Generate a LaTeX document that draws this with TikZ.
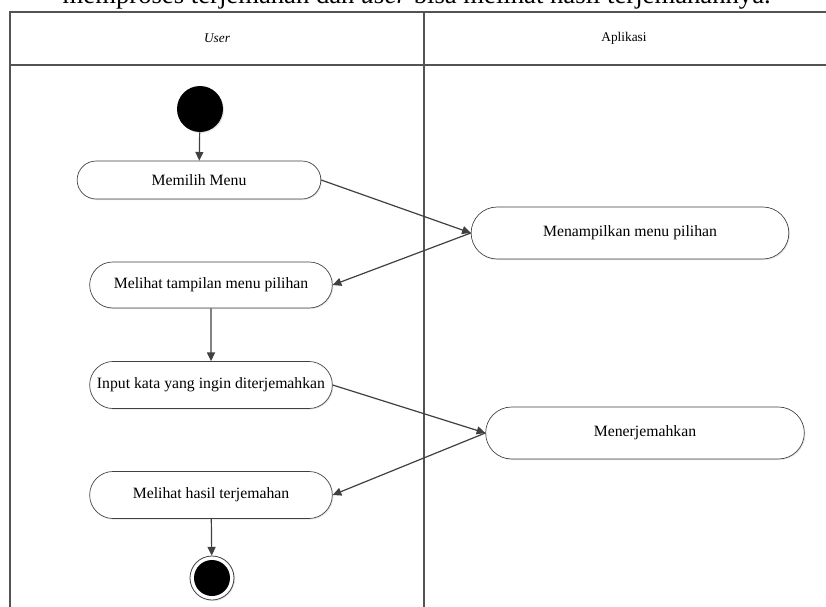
\documentclass[tikz,border=0pt]{standalone}
\usepackage{fontspec}
\setmainfont{Liberation Serif}
\usetikzlibrary{arrows.meta,shapes.misc,shadows}
\definecolor{ln}{HTML}{404040}

\begin{document}
\begin{tikzpicture}[x=0.75pt,y=-0.75pt,
    act/.style={rounded rectangle, draw=ln, line width=0.5pt, fill=white,
        font=\fontsize{11.8}{14}\selectfont, inner sep=2pt,
        drop shadow={opacity=0.2, shadow xshift=0.8pt, shadow yshift=-0.8pt}},
    flow/.style={draw=ln, line width=0.9pt, -{Triangle[length=6.5pt,width=6pt]}},
    lane/.style={draw=ln!90, line width=1.1pt}]
    \useasboundingbox (0,0) rectangle (826,607);
    \clip (0,0) rectangle (826,607);
    \fill[white] (0,0) rectangle (826,607);
    % text line above the table (cut off at the top)
    \node[anchor=base east, inner sep=0pt, font=\fontsize{20}{24}\selectfont] (T) at (771,3)
        {memproses terjemahan dan \textit{user} bisa melihat hasil terjemahannya.};
    % swimlanes
    \pgfmathsetmacro{\L}{10}
    \pgfmathsetmacro{\M}{424}
    \pgfmathsetmacro{\H}{65}
    \draw[lane] (840,12) -- (\L,12) -- (\L,620);
    \draw[lane] (\L,\H) -- (840,\H);
    \draw[lane] (\M,12) -- (\M,620);
    \node[font=\fontsize{10}{12}\selectfont\itshape] (U) at (217,38) {User};
    \node[font=\fontsize{10}{12}\selectfont] (P) at (624,38) {Aplikasi};
    % activities
    \node[circle, fill=black, minimum size=34.5pt, inner sep=0pt,
        drop shadow={opacity=0.2, shadow xshift=0.8pt, shadow yshift=-0.8pt}] (S) at (200,109) {};
    \node[act, minimum width=186.8pt, minimum height=28.5pt] (M1) at (199,180) {Memilih Menu};
    \node[act, minimum width=242.3pt, minimum height=39pt] (A1) at (630,233) {Menampilkan menu pilihan};
    \node[act, minimum width=186pt, minimum height=34.5pt] (M2) at (211,285) {Melihat tampilan menu pilihan};
    \node[act, minimum width=186pt, minimum height=35.3pt] (M3) at (211,385) {Input kata yang ingin diterjemahkan};
    \node[act, minimum width=243pt, minimum height=39pt] (A2) at (645,433) {Menerjemahkan};
    \node[act, minimum width=186pt, minimum height=35.3pt] (M4) at (211,495) {Melihat hasil terjemahan};
    \node[circle, draw=ln, line width=0.6pt, fill=white, minimum size=33pt, inner sep=0pt,
        drop shadow={opacity=0.2, shadow xshift=0.8pt, shadow yshift=-0.8pt}] (E) at (212,578) {};
    \fill (E) circle (13.5pt);
    % flows
    \draw[flow] (S) -- (M1);
    \draw[flow] (M1.east) -- (A1.west);
    \draw[flow] (A1.west) -- (M2.east);
    \draw[flow] (M2) -- (M3);
    \draw[flow] (M3.east) -- (A2.west);
    \draw[flow] (A2.west) -- (M4.east);
    \draw[flow] (M4) -- (E);
\end{tikzpicture}
\end{document}
